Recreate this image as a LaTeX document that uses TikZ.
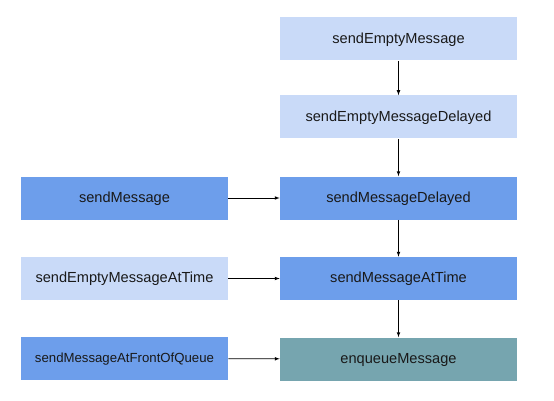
\documentclass[tikz,border=0pt]{standalone}
\usepackage{fontspec}
\setmainfont{Liberation Sans}
\usepackage{xcolor}
\usepackage{tikz}

\definecolor{lightblue}{HTML}{C9DAF8}
\definecolor{midblue}{HTML}{6D9EEB}
\definecolor{queueteal}{HTML}{76A5AF}

\begin{document}
\begin{tikzpicture}[x=1pt, y=-1pt, >=latex, line width=0.7pt,
    box/.style={minimum height=43pt, inner sep=0pt, text height=10.5pt, text depth=2pt, text=black!90, font=\fontsize{14.6}{17}\selectfont},
    wide/.style={box, minimum width=237pt},
    narrow/.style={box, minimum width=207pt}]
                        \useasboundingbox (0,0) rectangle (554,401);

                        \node[wide, fill=lightblue] (SEM) at (398.5, 39){sendEmptyMessage};
                        \node[wide, fill=lightblue] (SEMD) at (398.5, 117){sendEmptyMessageDelayed};
                        \node[wide, fill=midblue] (SMD) at (398.5, 198){sendMessageDelayed};
                        \node[wide, fill=midblue] (SMAT) at (398.5, 278.5){sendMessageAtTime};
                        \node[wide, fill=queueteal] (EQ) at (398.5, 359){enqueueMessage};

                        \node[narrow, fill=midblue] (SM) at (124.5, 198){sendMessage};
                        \node[narrow, fill=lightblue] (SEMAT) at (124.5, 278.5){sendEmptyMessageAtTime};
                        \node[narrow, fill=midblue, font=\fontsize{13.2}{16}\selectfont] (SMFQ) at (124.5, 358.5){sendMessageAtFrontOfQueue};

                        \draw[->] (SEM) -- (SEMD);
                        \draw[->] (SEMD) -- (SMD);
                        \draw[->] (SMD) -- (SMAT);
                        \draw[->] (SMAT) -- (EQ);

                        \draw[->] (SM) -- (SMD);
                        \draw[->] (SEMAT) -- (SMAT);
                        \draw[->] (SMFQ) -- (EQ);
                    \end{tikzpicture}
\end{document}
